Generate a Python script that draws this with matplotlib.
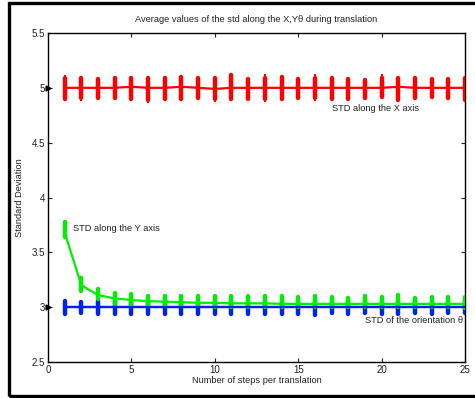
import matplotlib.pyplot as plt
from matplotlib.patches import Rectangle
import numpy as np

plt.rcParams['font.family'] = ['Liberation Sans', 'DejaVu Sans']

# number of steps per translation
steps = list(range(1, 26))

# STD along X (red)
x_mean = [5.00, 5.00, 5.00, 5.00, 5.01, 5.00, 5.00, 5.01, 5.00, 4.99, 5.00, 5.00, 5.00,
          5.00, 5.00, 5.00, 5.00, 5.00, 5.00, 5.00, 5.01, 5.00, 5.00, 5.00, 5.00]
x_lo = [4.90, 4.91, 4.91, 4.91, 4.90, 4.89, 4.90, 4.90, 4.91, 4.90, 4.90, 4.90, 4.90,
        4.90, 4.91, 4.91, 4.90, 4.90, 4.91, 4.92, 4.89, 4.91, 4.92, 4.91, 4.89]
x_hi = [5.09, 5.09, 5.08, 5.09, 5.09, 5.09, 5.09, 5.10, 5.09, 5.09, 5.12, 5.08, 5.09,
        5.10, 5.08, 5.09, 5.09, 5.08, 5.07, 5.09, 5.09, 5.09, 5.08, 5.08, 5.09]
x_out_x = [1, 2, 6, 6, 10, 13, 13, 16, 16, 17, 20, 21]
x_out_y = [5.11, 4.89, 5.10, 4.87, 4.88, 5.12, 4.88, 5.12, 4.89, 5.10, 5.12, 4.88]

# STD along Y (green)
y_mean = [3.68, 3.20, 3.11, 3.08, 3.065, 3.055, 3.05, 3.045, 3.04, 3.04, 3.035, 3.035, 3.035,
          3.03, 3.03, 3.03, 3.03, 3.03, 3.03, 3.03, 3.03, 3.03, 3.03, 3.03, 3.03]
y_lo = [3.64, 3.15, 3.07, 3.03, 3.01, 3.01, 3.01, 3.01, 3.01, 3.00, 3.00, 3.00, 3.00,
        3.00, 3.00, 3.00, 3.00, 3.00, 3.00, 3.00, 3.00, 3.00, 3.00, 3.00, 2.99]
y_hi = [3.78, 3.27, 3.17, 3.13, 3.12, 3.10, 3.10, 3.10, 3.10, 3.10, 3.10, 3.10, 3.10,
        3.10, 3.09, 3.10, 3.09, 3.08, 3.10, 3.09, 3.11, 3.08, 3.09, 3.09, 3.09]

# STD of the orientation (blue)
t_mean = [3.00] * 25
t_lo = [2.94, 2.95, 2.94, 2.94, 2.94, 2.94, 2.94, 2.94, 2.94, 2.94, 2.94, 2.94, 2.94,
        2.94, 2.94, 2.93, 2.95, 2.94, 2.95, 2.94, 2.94, 2.95, 2.94, 2.95, 2.95]
t_hi = [3.06, 3.05, 3.06, 3.06, 3.05, 3.05, 3.05, 3.05, 3.05, 3.05, 3.05, 3.05, 3.05,
        3.05, 3.05, 3.05, 3.05, 3.05, 3.05, 3.05, 3.05, 3.05, 3.05, 3.05, 3.05]

fig = plt.figure(figsize=(4.75, 3.98), dpi=100)
ax = fig.add_axes([48 / 475, 1 - 362 / 398, 417 / 475, 329 / 398])


def draw(mean, lo, hi, color):
    ax.vlines(steps, lo, hi, colors=color, lw=3.2, capstyle='round', zorder=3)
    ax.plot(steps, mean, color=color, lw=1.6, zorder=3)


draw(x_mean, x_lo, x_hi, '#ff0000')
ax.plot(x_out_x, x_out_y, 's', color='#ff0000', ms=1.8, mew=0, zorder=3)
draw(t_mean, t_lo, t_hi, '#0022ee')
draw(y_mean, y_lo, y_hi, '#00ee00')
ax.plot(steps, t_mean, color='#0022ee', lw=1.6, zorder=3)

# little markers on the y axis
ax.plot([0, 0], [5, 3], 'k>', ms=3.5, clip_on=False, zorder=5)

ax.set_xlim(0, 25)
ax.set_ylim(2.5, 5.5)
ax.set_xticks([0, 5, 10, 15, 20, 25])
ax.set_yticks([2.5, 3, 3.5, 4, 4.5, 5, 5.5])
ax.set_yticklabels(['2.5', '3', '3.5', '4', '4.5', '5', '5.5'])
ax.tick_params(direction='in', top=True, right=True, length=3, width=0.8,
               labelsize=7, pad=2, colors='#222222')
for s in ax.spines.values():
    s.set_linewidth(1.0)

ax.set_title('Average values of the std along the X,Y\u03b8 during translation',
             fontsize=6.7, pad=8, color='#222222')
ax.set_xlabel('Number of steps per translation', fontsize=6.7, labelpad=1, color='#222222')
ax.set_ylabel('Standard Deviation', fontsize=6.7, labelpad=6, color='#222222')

ax.text(17.0, 4.816, 'STD along the X axis', fontsize=6.7, va='center', color='#222222')
ax.text(1.5, 3.713, 'STD along the Y axis', fontsize=6.7, va='center', color='#222222')
ax.text(24.9, 2.874, 'STD of the orientation \u03b8', fontsize=6.7, va='center', ha='right',
        color='#222222')

# outer frame
fig.patches.append(Rectangle((9 / 475, 2 / 398), 1.0, 393 / 398, transform=fig.transFigure,
                             fill=False, lw=2.4, ec='black'))

fig.savefig('out.png', dpi=100)
